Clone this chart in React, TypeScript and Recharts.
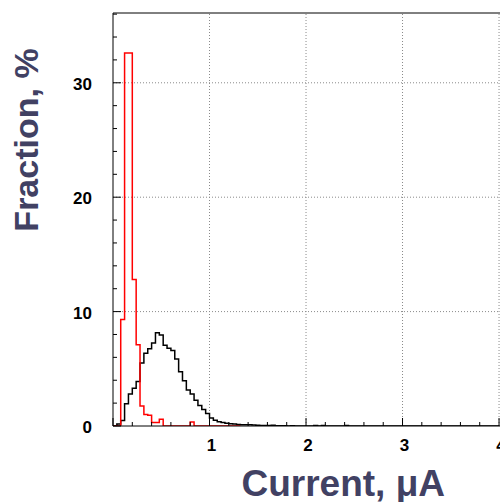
import { ComposedChart, Line, XAxis, YAxis, ReferenceLine } from "recharts";

// histogram binning (uA)
const BIN_WIDTH = 0.04;

// reference distribution (black), bins from 0
const blackCounts = [
  0.02, 0.17, 0.47, 1.95, 2.8, 3.3, 3.9, 5.5, 6.35, 6.75, 7.25, 8.15, 7.95, 7.05,
  6.8, 6.6, 5.85, 4.75, 3.95, 3.15, 2.8, 2.25, 1.8, 1.45, 1.1, 0.7, 0.5, 0.38,
  0.3, 0.25, 0.2, 0.17, 0.14, 0.12, 0.1, 0.12, 0.08, 0.06, 0.05, 0.04, 0.04,
  0.06, 0.03, 0.02, 0.02, 0.0, 0.02, 0.0, 0.0, 0.0, 0.0, 0.0, 0.04, 0.0, 0.05,
  0.0, 0.0, 0.0, 0.0, 0.0, 0.04, 0.0, 0.0, 0.0, 0.0, 0.0, 0.0, 0.0, 0.0, 0.0,
  0.0, 0.0, 0.0, 0.0, 0.0, 0.0, 0.0, 0.0, 0.0, 0.0, 0.0, 0.0, 0.0, 0.0, 0.0,
  0.0, 0.0, 0.0, 0.0, 0.0, 0.0, 0.0, 0.0, 0.0, 0.0, 0.0, 0.0, 0.0, 0.0, 0.0,
];

// red distribution, bins from 0
const redCounts = [
  0, 0, 9.3, 32.6, 32.6, 12.8, 7.1, 1.75, 1.0, 0.95, 0.3, 0.3, 0.58, 0, 0, 0, 0,
  0, 0, 0, 0.35, 0, 0, 0, 0, 0, 0, 0, 0, 0, 0, 0, 0,
];

const xTicks = Array.from({ length: 21 }, (_, i) => Math.round(i * 2) / 10);
const xLabels = [1, 2, 3, 4];
const yTicks = Array.from({ length: 19 }, (_, i) => i * 2);
const yLabels = [0, 10, 20, 30];
const xGrid = [1, 2, 3, 4];
const yGrid = [10, 20, 30];

const X_MAX = 4.01;
const Y_MAX = 36.1;

const FONT = '"Liberation Sans", Arial, Helvetica, sans-serif';
const TITLE_COLOR = "#414163";

function toSteps(counts: number[]) {
  const pts = counts.map((c, i) => ({ x: +(i * BIN_WIDTH).toFixed(3), y: c }));
  const end = +(counts.length * BIN_WIDTH).toFixed(3);
  pts.push({ x: end, y: counts[counts.length - 1] });
  pts.push({ x: end, y: 0 });
  return pts;
}

const blackData = toSteps(blackCounts);
const redData = toSteps(redCounts);

function XTick(props: any) {
  const { x, y, payload } = props;
  const v = payload.value as number;
  const major = Math.abs(v - Math.round(v)) < 1e-6;
  const showLabel = xLabels.includes(Math.round(v)) && major;
  return (
    <g>
      <line x1={x} x2={x} y1={y} y2={y - (major ? 8 : 4)} stroke="#000" />
      {showLabel && (
        <text
          x={x + 2}
          y={y + 25}
          textAnchor="middle"
          fontFamily={FONT}
          fontWeight="bold"
          fontSize={17}
          fill="#000"
        >
          {v}
        </text>
      )}
    </g>
  );
}

function YTick(props: any) {
  const { x, y, payload } = props;
  const v = payload.value as number;
  const major = v % 10 === 0;
  return (
    <g>
      <line x1={x} x2={x + (major ? 8 : 4)} y1={y} y2={y} stroke="#000" />
      {yLabels.includes(v) && (
        <text
          x={x - 21}
          y={y + 7}
          textAnchor="end"
          fontFamily={FONT}
          fontWeight="bold"
          fontSize={17}
          fill="#000"
        >
          {v}
        </text>
      )}
    </g>
  );
}

export default function App() {
  return (
    <div style={{ position: "absolute", left: 0, top: 0, width: 500, height: 502, background: "#fff" }}>
      <ComposedChart
        width={500}
        height={502}
        margin={{ top: 13, right: 0, bottom: 0, left: 0 }}
      >
        <XAxis
          type="number"
          dataKey="x"
          domain={[0, X_MAX]}
          allowDataOverflow
          ticks={xTicks}
          interval={0}
          height={76}
          tickSize={0}
          tickMargin={0}
          tickLine={false}
          tick={<XTick />}
          axisLine={{ stroke: "#000" }}
        />
        <YAxis
          type="number"
          domain={[0, Y_MAX]}
          allowDataOverflow
          ticks={yTicks}
          interval={0}
          width={113}
          tickSize={0}
          tickMargin={0}
          tickLine={false}
          tick={<YTick />}
          axisLine={{ stroke: "#000" }}
        />
        {xGrid.map((g) => (
          <ReferenceLine key={"gx" + g} x={g} stroke="#8a8a8a" strokeDasharray="1 2" />
        ))}
        {yGrid.map((g) => (
          <ReferenceLine key={"gy" + g} y={g} stroke="#8a8a8a" strokeDasharray="1 2" />
        ))}
        <ReferenceLine y={Y_MAX} stroke="#000" />
        <Line
          data={blackData}
          dataKey="y"
          type="stepAfter"
          stroke="#000"
          strokeWidth={1.5}
          dot={false}
          activeDot={false}
          isAnimationActive={false}
        />
        <Line
          data={redData}
          dataKey="y"
          type="stepAfter"
          stroke="#ff0000"
          strokeWidth={1.5}
          dot={false}
          activeDot={false}
          isAnimationActive={false}
        />
      </ComposedChart>
      <svg
        width={500}
        height={502}
        style={{ position: "absolute", left: 0, top: 0, pointerEvents: "none" }}
      >
        <text
          transform="translate(38,140) rotate(-90)"
          textAnchor="middle"
          fontFamily={FONT}
          fontWeight="bold"
          fontSize={34}
          fill={TITLE_COLOR}
        >
          Fraction, %
        </text>
        <text
          x={445}
          y={496}
          textAnchor="end"
          fontFamily={FONT}
          fontWeight="bold"
          fontSize={37}
          fill={TITLE_COLOR}
        >
          Current, μA
        </text>
      </svg>
    </div>
  );
}
